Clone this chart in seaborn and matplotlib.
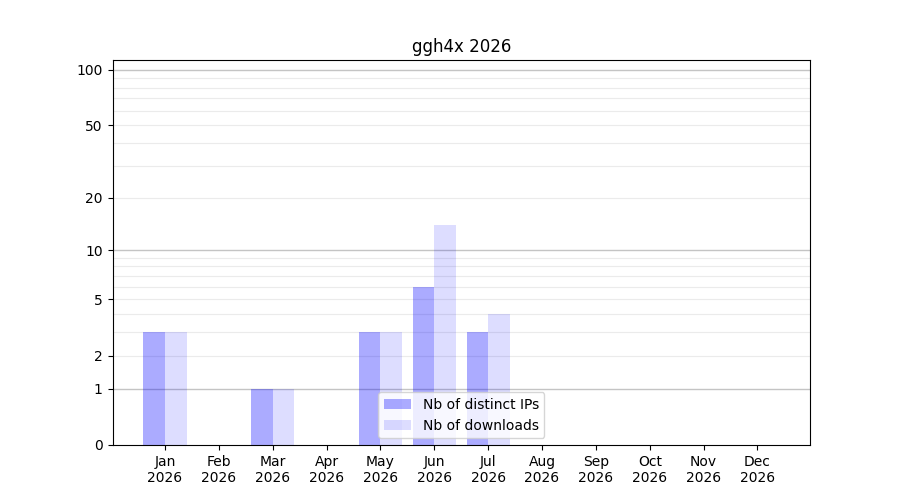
import numpy as np
import pandas as pd
import matplotlib
matplotlib.use("Agg")
import matplotlib.pyplot as plt
import seaborn as sns

# data
months = ["Jan", "Feb", "Mar", "Apr", "May", "Jun", "Jul", "Aug", "Sep", "Oct", "Nov", "Dec"]
year = "2026"
distinct_ips = [3, 0, 1, 0, 3, 6, 3, 0, 0, 0, 0, 0]
downloads = [3, 0, 1, 0, 3, 14, 4, 0, 0, 0, 0, 0]
ytick_values = [0, 1, 2, 5, 10, 20, 50, 100]
major_grid = [1, 10, 100]
minor_grid = [2, 3, 4, 5, 6, 7, 8, 9, 20, 30, 40, 50, 60, 70, 80, 90]

labels = [m + "\n" + year for m in months]
df = pd.DataFrame({
    "month": labels * 2,
    "value": distinct_ips + downloads,
    "kind": ["Nb of distinct IPs"] * 12 + ["Nb of downloads"] * 12,
})

fig, ax = plt.subplots(figsize=(9, 5), dpi=100)

# grid first so the translucent bars sit on top of it
for v in minor_grid:
    ax.axhline(v, color="#ebebeb", lw=0.8, zorder=0)
for v in major_grid:
    ax.axhline(v, color="#c4c4c4", lw=1.0, zorder=0)

sns.barplot(data=df, x="month", y="value", hue="kind", order=labels,
            palette=["blue", "blue"], saturation=1, width=0.8, ax=ax, zorder=2)

alphas = [0.33, 0.135]
for cont, a in zip(ax.containers, alphas):
    for p in cont:
        p.set_alpha(a)
        p.set_linewidth(0)

ax.set_yscale("function", functions=(lambda y: np.log10(1 + np.clip(y, -0.99, None)),
                                     lambda y: 10 ** y - 1))
ax.set_ylim(0, 113)
ax.set_xlim(-0.975, 11.975)
ax.set_yticks(ytick_values)
ax.set_yticklabels([str(v) for v in ytick_values])
ax.yaxis.set_minor_locator(matplotlib.ticker.NullLocator())

ax.set_xlabel("")
ax.set_ylabel("")
ax.set_title("ggh4x 2026")

handles = [ax.containers[0], ax.containers[1]]
if ax.get_legend() is not None:
    ax.get_legend().remove()
ax.legend(handles, ["Nb of distinct IPs", "Nb of downloads"], loc="lower center")

plt.savefig("out.png")
